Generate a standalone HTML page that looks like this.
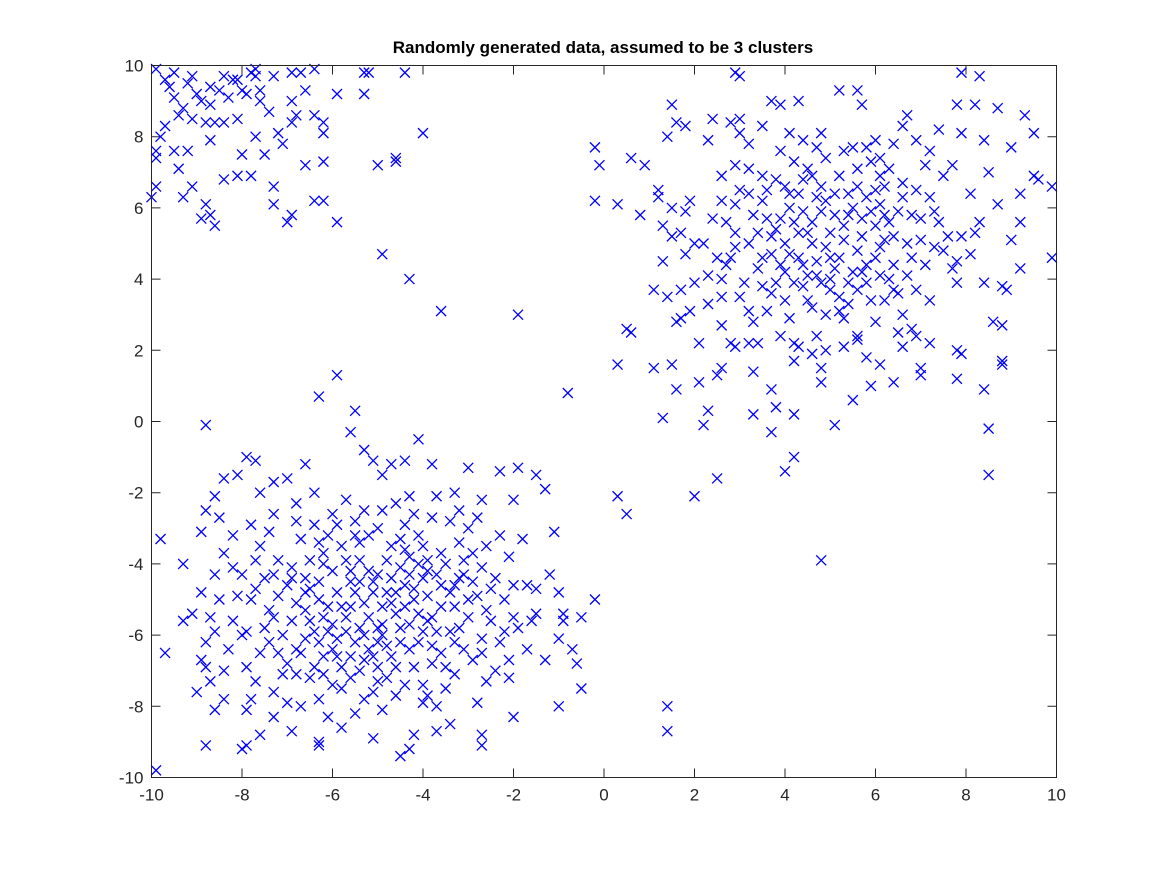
<!DOCTYPE html>
<html><head><meta charset="utf-8"><style>
html,body{margin:0;padding:0;background:#fff;}
svg text{font-family:"Liberation Sans",Arial,sans-serif;}
</style></head><body>
<svg id="chart" width="1167" height="875" xmlns="http://www.w3.org/2000/svg">
<rect width="1167" height="875" fill="#fff"/>
<text x="603" y="53" text-anchor="middle" font-size="17" font-weight="bold" fill="#000">Randomly generated data, assumed to be 3 clusters</text>
<g id="ticks"></g>
<g id="points"></g>
<rect x="151.5" y="65.5" width="905" height="712" fill="none" stroke="#262626" stroke-width="1"/>
</svg>
<script>
const xTicks=[-10,-8,-6,-4,-2,0,2,4,6,8,10];
const yTicks=[-10,-8,-6,-4,-2,0,2,4,6,8,10];
const clusterTL=[[-9.9,9.9],[-9.7,9.6],[-9.5,9.8],[-9.1,9.7],[-8.4,9.7],[-8.2,9.6],[-7.7,9.9],[-7.8,9.8],[-7.3,9.7],[-6.9,9.8],[-6.7,9.8],[-6.4,9.9],[-6.6,9.3],[-5.9,9.2],[-5.3,9.8],[-5.3,9.2],[-4.4,9.8],[-9.9,7.6],[-9.7,8.3],[-9.5,9.1],[-9.3,8.8],[-9.0,9.2],[-8.7,9.4],[-8.5,9.3],[-8.3,9.1],[-8.1,9.6],[-8.6,8.4],[-8.4,8.4],[-8.1,8.5],[-7.9,9.2],[-7.6,9.3],[-8.7,7.9],[-9.5,7.6],[-9.2,7.6],[-9.4,7.1],[-9.9,7.4],[-9.9,6.6],[-10,6.3],[-9.3,6.3],[-8.0,7.5],[-7.8,6.9],[-7.5,7.5],[-7.1,7.8],[-7.3,6.1],[-7.2,8.1],[-6.8,8.6],[-6.9,8.4],[-6.9,9.0],[-6.4,8.6],[-6.2,6.2],[-5.9,5.6],[-6.2,7.3],[-6.2,8.1],[-7.0,5.6],[-8.7,5.8],[-8.6,5.5],[-8.9,5.7],[-7.3,6.6],[-6.4,6.2],[-6.9,5.8],[-6.6,7.2],[-6.2,8.4],[-5.0,7.2],[-4.6,7.3],[-4.6,7.4],[-9.1,6.6],[-8.8,6.1],[-8.4,6.8],[-8.1,6.9],[-8.7,8.9],[-9.1,8.5],[-7.6,9.0],[-5.2,9.8],[-4.9,4.7],[-4.0,8.1],[-3.6,3.1],[-4.3,4.0],[-1.9,3.0],[-9.6,9.4],[-9.2,9.5],[-8.9,9.0],[-8.8,8.4],[-8.0,9.3],[-7.7,9.7],[-9.4,8.6],[-9.8,8.0],[-7.7,8.0],[-7.4,8.7]];
const clusterTR=[[-0.2,7.7],[-0.1,7.2],[-0.2,6.2],[0.3,6.1],[0.6,7.4],[0.8,5.8],[0.9,7.2],[1.2,6.5],[1.2,6.3],[1.5,6.0],[1.5,5.2],[1.3,5.5],[1.7,5.3],[1.8,5.9],[1.9,6.2],[2.0,5.0],[1.8,4.7],[1.3,4.5],[1.1,3.7],[1.4,3.5],[1.7,3.7],[1.7,2.9],[1.9,3.1],[1.6,2.8],[2.1,2.2],[2.3,3.3],[2.6,3.5],[2.6,4.0],[2.8,4.6],[2.6,2.7],[2.8,2.2],[2.9,2.1],[3.2,2.2],[3.3,1.4],[2.6,1.5],[2.5,1.3],[2.1,1.1],[1.5,1.6],[1.1,1.5],[1.6,0.9],[1.3,0.1],[2.3,0.3],[2.2,-0.1],[2.5,-1.6],[2.0,-2.1],[0.3,-2.1],[0.5,-2.6],[0.6,2.5],[0.5,2.6],[0.3,1.6],[-0.8,0.8],[1.5,8.9],[1.8,8.3],[1.6,8.4],[1.4,8.0],[2.4,8.5],[2.3,7.9],[2.6,6.9],[2.9,7.2],[2.8,8.4],[2.9,9.8],[3.0,9.7],[3.0,8.5],[3.2,7.8],[3.0,8.1],[3.5,8.3],[3.7,9.0],[3.9,8.9],[4.3,9.0],[4.1,8.1],[4.4,7.9],[4.8,8.1],[5.2,9.3],[5.6,9.3],[5.3,7.6],[5.5,7.7],[5.7,8.9],[6.0,7.9],[6.1,7.4],[6.2,6.6],[6.1,6.1],[6.6,8.3],[6.7,8.6],[6.9,7.9],[7.2,7.6],[7.4,8.2],[7.9,9.8],[7.8,8.9],[8.2,8.9],[8.3,9.7],[8.7,8.8],[8.4,7.9],[7.9,8.1],[7.7,7.2],[8.5,7.0],[8.7,6.1],[9.0,7.7],[9.3,8.6],[9.5,8.1],[9.5,6.9],[9.9,6.6],[9.2,6.4],[9.6,6.8],[9.9,4.6],[9.2,5.6],[9.0,5.1],[9.2,4.3],[8.9,3.7],[8.4,3.9],[8.8,3.8],[8.6,2.8],[8.8,2.7],[8.8,1.7],[8.8,1.6],[8.4,0.9],[8.5,-0.2],[8.5,-1.5],[7.9,1.9],[7.8,2.0],[7.8,1.2],[7.8,3.9],[7.7,4.3],[8.1,4.7],[8.2,5.3],[8.3,5.6],[8.1,6.4],[7.9,5.2],[7.3,4.9],[7.1,4.4],[7.2,3.4],[6.9,2.4],[7.0,1.5],[7.0,1.3],[6.6,2.1],[6.4,1.1],[6.1,1.6],[5.8,1.8],[5.6,2.3],[5.5,0.6],[5.1,-0.1],[4.8,1.1],[4.8,1.5],[4.9,2.0],[4.3,2.1],[4.2,1.7],[3.9,2.4],[3.7,0.9],[3.8,0.4],[3.7,-0.3],[4.0,-1.4],[4.2,-1.0],[4.2,0.2],[4.8,-3.9],[3.3,0.2],[3.4,2.2],[3.3,2.8],[3.6,3.1],[3.2,3.1],[3.1,3.9],[3.5,3.8],[3.8,3.9],[4.0,4.2],[4.2,3.9],[4.4,3.8],[4.5,4.1],[4.5,3.4],[4.1,2.9],[4.2,2.2],[4.7,2.4],[4.9,3.0],[5.0,3.7],[5.2,3.5],[5.4,3.3],[5.3,2.9],[5.6,2.4],[5.6,3.7],[5.9,3.4],[6.0,2.8],[6.2,3.4],[6.3,4.0],[6.5,3.6],[6.7,4.1],[6.9,3.7],[6.7,5.0],[6.4,4.4],[6.1,4.9],[5.8,4.4],[5.5,4.2],[5.2,4.6],[4.9,4.9],[4.6,5.0],[4.3,5.3],[4.0,5.0],[3.7,4.7],[3.4,5.3],[3.2,5.0],[2.9,5.3],[2.7,4.4],[2.9,6.1],[3.2,6.4],[3.5,6.2],[3.6,5.7],[3.9,5.7],[4.1,6.0],[4.3,6.4],[4.4,6.8],[4.7,6.3],[4.8,6.6],[4.9,6.2],[5.1,5.8],[5.3,5.5],[5.5,6.0],[5.7,5.7],[5.8,6.3],[6.0,5.5],[6.2,5.1],[6.5,5.9],[6.8,5.8],[7.0,5.7],[6.9,6.5],[7.2,6.3],[7.4,5.6],[7.6,5.2],[7.5,4.8],[7.8,4.5],[6.6,6.7],[6.3,7.1],[5.9,7.3],[5.6,7.1],[5.2,6.9],[4.9,7.4],[4.5,7.1],[4.2,7.3],[3.8,6.8],[3.5,6.9],[3.2,7.1],[3.0,6.5],[2.6,6.2],[2.4,5.7],[2.2,5.0],[2.5,4.6],[2.3,4.1],[2.0,3.9],[3.9,4.4],[4.3,4.6],[4.6,5.6],[5.0,5.3],[5.3,5.1],[5.6,4.8],[6.0,4.6],[6.3,5.6],[5.1,4.3],[4.8,3.9],[5.8,3.9],[6.6,3.0],[6.8,2.6],[5.3,2.1],[4.6,1.9],[5.0,4.0],[4.4,5.9],[5.4,6.4],[6.1,6.9],[7.1,7.2],[7.5,6.9],[3.7,5.2],[4.7,4.5],[2.9,4.9],[2.7,5.6],[3.4,4.3],[6.5,2.5],[7.2,2.2],[5.9,1.0],
[3.3,5.8],[3.6,6.5],[4.0,6.6],[4.2,5.6],[4.5,5.3],[4.8,5.9],[5.1,6.4],[5.4,5.8],[5.7,5.2],[5.9,5.9],[6.2,5.8],[6.4,5.2],[5.0,4.6],[4.7,4.1],[4.4,4.4],[4.1,4.7],[3.8,5.4],[3.5,4.6],[5.4,3.9],[5.7,4.2],[6.1,4.1],[6.4,3.7],[5.2,3.1],[4.6,3.2],[4.0,3.4],[3.7,3.6],[3.0,3.5],[6.8,4.6],[7.0,5.1],[7.3,5.9],[6.6,6.3],[6.0,6.5],[5.6,6.6],[4.6,6.9],[4.1,6.4],[3.9,7.6],[4.7,7.7],[5.8,7.7],[6.4,7.8]];
const clusterBL=[[-9.8,-3.3],[-9.9,-9.8],[-9.7,-6.5],[-9.3,-4.0],[-9.3,-5.6],[-9.0,-7.6],[-8.8,-9.1],[-8.8,-6.9],[-8.8,-0.1],[-8.8,-2.5],[-8.9,-3.1],[-8.6,-2.1],[-8.4,-1.6],[-8.1,-1.5],[-7.9,-1.0],[-7.7,-1.1],[-7.6,-2.0],[-7.3,-1.7],[-7.0,-1.6],[-6.8,-2.3],[-6.6,-1.2],[-6.4,-2.0],[-6.3,0.7],[-5.9,1.3],[-5.6,-0.3],[-5.5,0.3],[-5.3,-0.8],[-5.1,-1.1],[-4.9,-1.5],[-4.7,-1.2],[-4.4,-1.1],[-4.1,-0.5],[-3.8,-1.2],[-3.3,-2.0],[-3.0,-1.3],[-2.8,-2.7],[-2.3,-1.4],[-2.0,-2.2],[-1.9,-1.3],[-1.5,-1.5],[-1.3,-1.9],[-1.1,-3.1],[-1.0,-4.8],[-1.2,-4.3],[-1.5,-4.7],[-1.5,-5.4],[-0.9,-5.4],[-0.5,-5.5],[-0.2,-5.0],[-0.7,-6.4],[-0.6,-6.8],[-0.5,-7.5],[-1.0,-6.1],[-1.6,-5.6],[-1.7,-6.4],[-1.3,-6.7],[-1.0,-8.0],[-2.0,-8.3],[-2.1,-7.2],[-2.7,-8.8],[-2.7,-9.1],[-3.4,-8.5],[-3.7,-8.7],[-4.2,-8.8],[-4.3,-9.2],[-4.5,-9.4],[-5.1,-8.9],[-5.5,-8.2],[-5.8,-8.6],[-6.3,-9.0],[-6.3,-9.1],[-6.9,-8.7],[-7.6,-8.8],[-7.9,-9.1],[-8.0,-9.2],[-7.9,-8.1],[-8.6,-8.1],[-8.4,-7.8],[-8.7,-7.3],[-8.8,-6.2],[-9.1,-5.4],[-8.9,-4.8],[-8.6,-4.3],[-8.4,-3.7],[-8.2,-3.2],[-8.5,-2.7],[-7.8,-2.9],[-7.6,-3.5],[-7.3,-2.6],[1.4,-8.0],[1.4,-8.7],[-0.9,-5.6],
[-8.0,-4.3],[-7.8,-5.0],[-7.9,-5.9],[-8.2,-5.6],[-8.5,-5.0],[-8.3,-6.4],[-7.6,-6.5],[-7.5,-4.4],[-7.2,-3.9],[-7.4,-5.3],[-7.1,-6.0],[-7.7,-7.3],[-7.9,-6.9],[-7.3,-7.6],[-7.0,-7.9],[-6.8,-7.1],[-6.7,-6.5],[-6.9,-5.6],[-6.6,-4.8],[-6.9,-4.1],[-6.7,-3.3],[-6.4,-2.9],[-6.2,-3.7],[-6.3,-4.5],[-6.1,-5.2],[-6.4,-5.9],[-6.2,-6.6],[-6.5,-7.2],[-6.3,-7.8],[-6.0,-7.4],[-5.8,-6.9],[-5.9,-6.1],[-5.7,-5.5],[-5.9,-4.8],[-5.6,-4.2],[-5.8,-3.5],[-5.5,-2.8],[-5.7,-2.2],[-5.3,-2.5],[-5.2,-3.2],[-5.4,-3.9],[-5.1,-4.5],[-5.3,-5.1],[-5.0,-5.8],[-5.2,-6.4],[-5.4,-7.0],[-5.1,-7.6],[-4.9,-8.1],[-4.8,-7.2],[-4.7,-6.6],[-4.9,-6.0],[-4.6,-5.4],[-4.8,-4.8],[-4.5,-4.1],[-4.7,-3.5],[-4.4,-2.9],[-4.6,-2.3],[-4.2,-2.6],[-4.1,-3.2],[-4.3,-3.8],[-4.0,-4.4],[-4.2,-5.0],[-3.9,-5.6],[-4.1,-6.2],[-3.8,-6.8],[-4.0,-7.4],[-3.7,-8.0],[-3.5,-7.5],[-3.6,-6.5],[-3.4,-5.9],[-3.6,-5.2],[-3.3,-4.6],[-3.5,-4.0],[-3.2,-3.4],[-3.4,-2.8],[-3.0,-3.0],[-2.9,-3.7],[-3.1,-4.3],[-2.8,-4.9],[-3.0,-5.5],[-2.7,-6.1],[-2.9,-6.7],[-2.6,-7.3],[-2.8,-7.9],[-2.4,-7.0],[-2.3,-6.2],[-2.5,-5.6],[-2.2,-5.0],[-2.4,-4.4],[-2.1,-3.8],[-2.3,-3.2],[-2.0,-4.6],[-1.9,-5.8],[-2.1,-6.7],[-7.0,-4.6],[-6.6,-5.3],[-6.0,-5.7],[-5.5,-6.2],[-5.0,-6.9],[-4.5,-6.2],[-4.3,-5.7],[-3.9,-4.9],[-3.7,-4.3],[-4.4,-4.6],[-4.9,-5.2],[-5.5,-4.8],[-6.0,-4.2],[-6.5,-3.9],[-7.2,-4.9],[-7.5,-5.8],[-7.0,-6.8],[-6.4,-6.9],[-5.8,-7.5],[-5.3,-7.8],[-4.6,-7.7],[-4.2,-6.9],[-3.8,-6.3],[-3.2,-5.8],[-3.0,-5.0],[-3.6,-3.7],[-4.0,-3.5],[-4.8,-3.9],[-5.2,-4.2],[-5.7,-3.9],[-6.1,-3.2],[-6.8,-2.8],[-7.4,-3.1],[-7.7,-3.9],[-8.1,-4.9],[-8.7,-5.5],[-8.9,-6.7],[-8.4,-7.0],[-7.8,-7.8],[-7.3,-8.3],[-6.7,-8.0],[-6.1,-8.3],[-5.6,-7.2],[-5.1,-6.6],[-4.6,-6.9],[-4.0,-7.9],[-3.3,-7.1],[-3.1,-6.4],[-2.6,-5.3],[-2.0,-5.5],[-1.7,-4.6],[-1.8,-3.3],[-2.6,-3.5],[-2.7,-4.1],[-3.8,-2.7],[-4.5,-3.3],[-5.0,-3.0],[-5.4,-3.4],[-6.0,-2.6],[-6.3,-5.0],[-6.8,-5.1],[-7.3,-5.5],[-7.1,-7.1],[-6.6,-6.1],[-6.0,-6.4],[-5.4,-5.8],[-4.9,-5.7],[-4.4,-5.2],[-4.0,-5.9],[-3.5,-6.9],[-3.9,-7.7],[-4.4,-7.4],[-5.0,-7.3],[-5.6,-6.6],[-6.2,-7.1],[-4.1,-4.0],[-3.4,-4.8],[-3.8,-5.5],[-4.7,-4.4],[-5.1,-4.8],[-5.6,-5.2],[-6.1,-5.9],[-5.3,-6.0],[-4.5,-5.8],[-4.2,-4.7],[-3.1,-3.9],[-2.5,-4.7],[-2.2,-5.9],[-2.7,-6.5],[-3.3,-6.2],[-8.2,-4.1],[-8.0,-6.0],[-8.6,-5.9],[-7.7,-4.7],[-7.3,-4.3],[-6.6,-4.4],[-6.3,-3.4],[-5.5,-3.2],[-5.9,-2.9],[-4.9,-2.5],[-4.3,-2.1],[-3.7,-2.1],[-3.2,-2.5],[-2.7,-2.2],
[-6.5,-4.7],[-6.2,-5.5],[-5.8,-5.2],[-5.4,-4.5],[-5.0,-4.3],[-4.6,-4.8],[-4.3,-4.3],[-3.9,-4.2],[-3.6,-4.6],[-3.3,-5.2],[-3.7,-5.9],[-4.3,-6.4],[-4.8,-6.3],[-5.2,-5.5],[-5.7,-5.9],[-6.3,-6.2],[-6.8,-6.4],[-6.5,-5.6],[-5.9,-6.6],[-5.3,-6.7],[-4.7,-5.1],[-4.4,-3.6],[-3.9,-3.9],[-5.6,-4.5],[-6.2,-4.0],[-6.9,-4.4],[-7.4,-6.2],[-7.2,-6.5],[-5.0,-6.2],[-4.1,-5.4],[-3.2,-4.4],[-2.9,-4.5]];

const X0=151.5,X1=1056.5,Y0=777.5,Y1=65.5;
function sx(v){return X0+(v+10)/20*(X1-X0);}
function sy(v){return Y0-(v+10)/20*(Y0-Y1);}
const NS="http://www.w3.org/2000/svg";
const tg=document.getElementById('ticks');
xTicks.forEach(t=>{
  const x=sx(t);
  const l=document.createElementNS(NS,'path');
  l.setAttribute('d',`M${x},${Y0}v-9M${x},${Y1}v9`);
  l.setAttribute('stroke','#262626');
  
  
  tg.appendChild(l);
  const tx=document.createElementNS(NS,'text');
  tx.setAttribute('x',x);tx.setAttribute('y',Y0+23);
  tx.setAttribute('text-anchor','middle');tx.setAttribute('font-size','17');tx.setAttribute('fill','#262626');
  tx.textContent=t;
  
  
  tg.appendChild(tx);
});
yTicks.forEach(t=>{
  const y=sy(t);
  const l=document.createElementNS(NS,'path');
  l.setAttribute('d',`M${X0},${y}h9M${X1},${y}h-9`);
  l.setAttribute('stroke','#262626');
  
  
  tg.appendChild(l);
  const tx=document.createElementNS(NS,'text');
  tx.setAttribute('x',X0-8);tx.setAttribute('y',y+6);
  tx.setAttribute('text-anchor','end');tx.setAttribute('font-size','17');tx.setAttribute('fill','#262626');
  tx.textContent=t;
  
  
  tg.appendChild(tx);
});
const pg=document.getElementById('points');
[clusterTL,clusterTR,clusterBL].forEach(arr=>arr.forEach(p=>{
  const x=sx(p[0]),y=sy(p[1]),r=5;
  const m=document.createElementNS(NS,'path');
  m.setAttribute('d',`M${x-r},${y-r}L${x+r},${y+r}M${x-r},${y+r}L${x+r},${y-r}`);
  m.setAttribute('stroke','#0000ff');m.setAttribute('stroke-width','1.3');
  
  
  pg.appendChild(m);
}));
</script>
</body></html>
